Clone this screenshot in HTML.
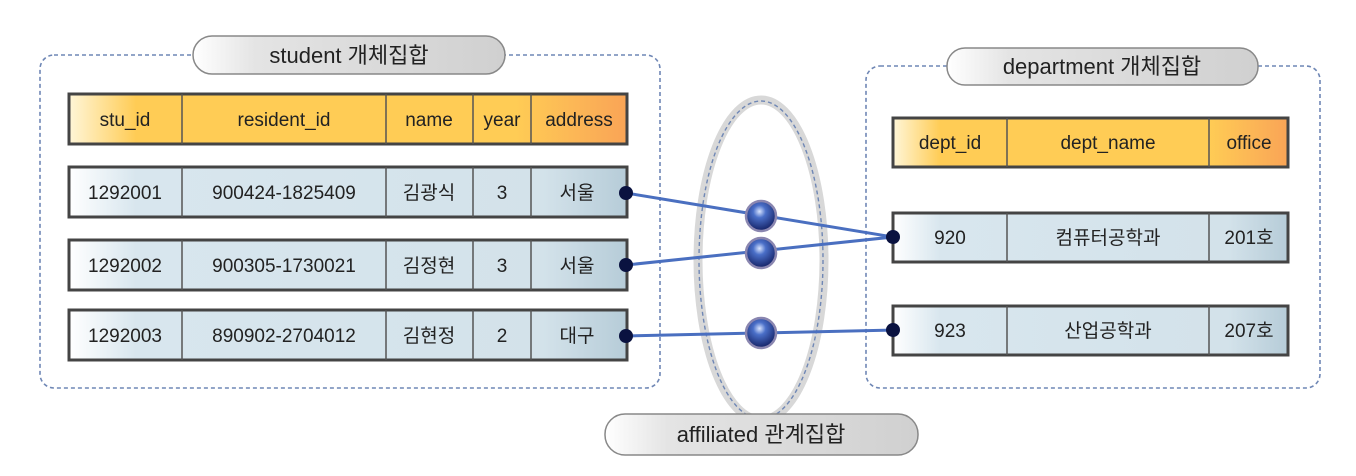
<!DOCTYPE html>
<html><head><meta charset="utf-8"><style>
html,body{margin:0;padding:0;background:#fff;width:1356px;height:476px;overflow:hidden}
svg text{font-family:"Liberation Sans","Noto Sans CJK KR",sans-serif;fill:#222}
</style></head><body>
<svg width="1356" height="476" viewBox="0 0 1356 476" xmlns="http://www.w3.org/2000/svg">
<defs>
<linearGradient id="hdr" x1="0" y1="0" x2="1" y2="0">
<stop offset="0" stop-color="#fff6d8"/><stop offset="0.12" stop-color="#ffcc55"/><stop offset="0.8" stop-color="#ffcc55"/><stop offset="1" stop-color="#f9a456"/></linearGradient>
<linearGradient id="row" x1="0" y1="0" x2="1" y2="0">
<stop offset="0" stop-color="#ffffff"/><stop offset="0.12" stop-color="#d8e6ee"/><stop offset="0.85" stop-color="#d3e2ea"/><stop offset="1" stop-color="#b6ccd8"/></linearGradient>
<linearGradient id="pill" x1="0" y1="0" x2="1" y2="0">
<stop offset="0" stop-color="#ffffff"/><stop offset="0.2" stop-color="#e4e4e4"/><stop offset="1" stop-color="#d0d0d0"/></linearGradient>
<radialGradient id="ball" cx="0.45" cy="0.35" r="0.6">
<stop offset="0" stop-color="#d8e4ff"/><stop offset="0.35" stop-color="#4a6fc8"/><stop offset="1" stop-color="#1a2a70"/></radialGradient>
</defs>
<rect x="40" y="55" width="620" height="333" rx="14" fill="none" stroke="#6f87b5" stroke-width="1.6" stroke-dasharray="4 3"/>
<rect x="866" y="66" width="454" height="322" rx="14" fill="none" stroke="#6f87b5" stroke-width="1.6" stroke-dasharray="4 3"/>
<ellipse cx="761" cy="260" rx="63" ry="160" fill="#fff" stroke="#d8d8d8" stroke-width="9"/>
<ellipse cx="761" cy="260" rx="62" ry="159" fill="none" stroke="#6f87b5" stroke-width="1.4" stroke-dasharray="4 3"/>
<rect x="193" y="36" width="312" height="38" rx="19" fill="url(#pill)" stroke="#888" stroke-width="1.5"/>
<text x="349" y="63" font-size="22" text-anchor="middle">student 개체집합</text>
<rect x="947" y="48" width="311" height="37" rx="18" fill="url(#pill)" stroke="#888" stroke-width="1.5"/>
<text x="1102" y="74" font-size="22" text-anchor="middle">department 개체집합</text>
<rect x="605" y="414" width="313" height="41" rx="20" fill="url(#pill)" stroke="#888" stroke-width="1.5"/>
<text x="761" y="442" font-size="22" text-anchor="middle">affiliated 관계집합</text>
<g stroke="#444" stroke-width="3">
<rect x="69" y="94" width="558" height="50" fill="url(#hdr)"/>
<rect x="69" y="167" width="558" height="50" fill="url(#row)"/>
<rect x="69" y="240" width="558" height="50" fill="url(#row)"/>
<rect x="69" y="310" width="558" height="50" fill="url(#row)"/>
<rect x="893" y="118" width="395" height="49" fill="url(#hdr)"/>
<rect x="893" y="213" width="395" height="49" fill="url(#row)"/>
<rect x="893" y="306" width="395" height="49" fill="url(#row)"/>
</g>
<g stroke="#555" stroke-width="1.5">
<line x1="182" y1="94" x2="182" y2="144"/><line x1="386" y1="94" x2="386" y2="144"/><line x1="473" y1="94" x2="473" y2="144"/><line x1="531" y1="94" x2="531" y2="144"/>
<line x1="182" y1="167" x2="182" y2="217"/><line x1="386" y1="167" x2="386" y2="217"/><line x1="473" y1="167" x2="473" y2="217"/><line x1="531" y1="167" x2="531" y2="217"/>
<line x1="182" y1="240" x2="182" y2="290"/><line x1="386" y1="240" x2="386" y2="290"/><line x1="473" y1="240" x2="473" y2="290"/><line x1="531" y1="240" x2="531" y2="290"/>
<line x1="182" y1="310" x2="182" y2="360"/><line x1="386" y1="310" x2="386" y2="360"/><line x1="473" y1="310" x2="473" y2="360"/><line x1="531" y1="310" x2="531" y2="360"/>
<line x1="1007" y1="118" x2="1007" y2="167"/><line x1="1209" y1="118" x2="1209" y2="167"/>
<line x1="1007" y1="213" x2="1007" y2="262"/><line x1="1209" y1="213" x2="1209" y2="262"/>
<line x1="1007" y1="306" x2="1007" y2="355"/><line x1="1209" y1="306" x2="1209" y2="355"/>
</g>
<g font-size="19" text-anchor="middle">
<text x="125" y="126">stu_id</text><text x="284" y="126">resident_id</text><text x="429" y="126">name</text><text x="502" y="126">year</text><text x="579" y="126">address</text>
<text x="125" y="199">1292001</text><text x="284" y="199">900424-1825409</text><text x="429" y="199">김광식</text><text x="502" y="199">3</text><text x="577" y="199">서울</text>
<text x="125" y="272">1292002</text><text x="284" y="272">900305-1730021</text><text x="429" y="272">김정현</text><text x="502" y="272">3</text><text x="577" y="272">서울</text>
<text x="125" y="342">1292003</text><text x="284" y="342">890902-2704012</text><text x="429" y="342">김현정</text><text x="502" y="342">2</text><text x="577" y="342">대구</text>
<text x="950" y="149">dept_id</text><text x="1108" y="149">dept_name</text><text x="1249" y="149">office</text>
<text x="950" y="244">920</text><text x="1108" y="244">컴퓨터공학과</text><text x="1249" y="244">201호</text>
<text x="950" y="337">923</text><text x="1108" y="337">산업공학과</text><text x="1249" y="337">207호</text>
</g>
<g stroke="#4a6fc0" stroke-width="3" fill="none">
<line x1="626" y1="193" x2="893" y2="237"/>
<line x1="626" y1="265" x2="893" y2="237"/>
<line x1="626" y1="336" x2="893" y2="330"/>
</g>
<g fill="#0a1240">
<circle cx="626" cy="193" r="7"/><circle cx="626" cy="265" r="7"/><circle cx="626" cy="336" r="7"/>
<circle cx="893" cy="237" r="7"/><circle cx="893" cy="330" r="7"/>
</g>
<g stroke="#8a86b0" stroke-width="2.5" fill="url(#ball)">
<circle cx="761" cy="216" r="15"/><circle cx="761" cy="253" r="15"/><circle cx="761" cy="333" r="15"/>
</g>
</svg>
</body></html>
